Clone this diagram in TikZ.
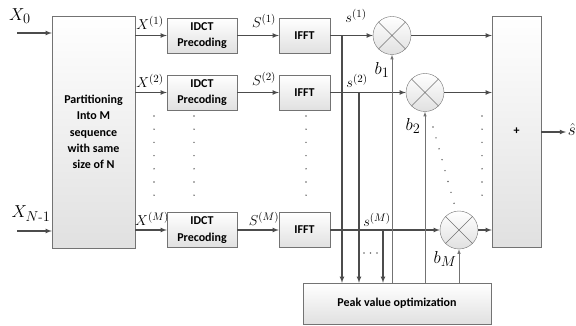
\documentclass[tikz,border=0pt]{standalone}
\usepackage{amsmath}
\usepackage{fontspec}
\newfontfamily\blkfont{Carlito}
\usetikzlibrary{arrows}

\begin{document}
\begin{tikzpicture}
		[x=1pt,y=-1pt,>=latex,
		sig/.style= {draw=black!70,line width=1.1pt},
		ctl/.style= {draw=black!55,line width=0.6pt},
		blk/.style= {font=\blkfont\bfseries\fontsize{12}{16.3}\selectfont,align=center,draw=black!55,top color=white,bottom color=black!12,inner sep=0pt},
		mul/.style= {circle,draw=black!55,top color=white,bottom color=black!12,minimum size=38pt,inner sep=0pt},
		lbl/.style= {font=\fontsize{15.5}{15.5}\selectfont,inner sep=0pt},
		big/.style= {font=\fontsize{19}{19}\selectfont,inner sep=0pt}]

		\useasboundingbox (0,0) rectangle (576,326);

		% partitioning
		\node[blk,minimum width=83pt,minimum height=232pt] (part) at (93.5,132) {Partitioning\\Into M\\sequence\\with same\\size of N};

		\node[big] (x0) at (20,16) {$X_0$};
		\node[big] (xn) at (31,214) {$X_{N\text{-}1}$};
		\coordinate (in0) at (17,33);
		\coordinate (inn) at (17,231);
		\draw[->,sig] (in0) -- (in0 -| part.west);
		\draw[->,sig] (inn) -- (inn -| part.west);

		% precoding and ifft
		\node[blk,minimum width=70pt,minimum height=35pt] (idct1) at (202,35.5) {IDCT\\Precoding};
		\node[blk,minimum width=70pt,minimum height=35pt] (idct2) at (202,92.5) {IDCT\\Precoding};
		\node[blk,minimum width=70pt,minimum height=35pt] (idctM) at (202,230) {IDCT\\Precoding};

		\node[blk,minimum width=51pt,minimum height=35pt] (ifft1) at (304.5,35.5) {IFFT}
			edge [<-,sig] (idct1)
		;
		\node[blk,minimum width=51pt,minimum height=35pt] (ifft2) at (304.5,92.5) {IFFT}
			edge [<-,sig] (idct2)
		;
		\node[blk,minimum width=51pt,minimum height=35pt] (ifftM) at (304.5,230) {IFFT}
			edge [<-,sig] (idctM)
		;

		\draw[->,sig] (part.east |- idct1) -- (idct1);
		\draw[->,sig] (part.east |- idct2) -- (idct2);
		\draw[->,sig] (part.east |- idctM) -- (idctM);

		\node[lbl] (lx1) at (150,23) {$X^{(1)}$};
		\node[lbl] (lx2) at (150,81) {$X^{(2)}$};
		\node[lbl] (lxM) at (152,219) {$X^{(M)}$};
		\node[lbl] (ls1) at (264,21) {$S^{(1)}$};
		\node[lbl] (ls2) at (264,79) {$S^{(2)}$};
		\node[lbl] (lsM) at (264,219) {$S^{(M)}$};

		% multipliers, sum, peak
		\node[mul] (mul1) at (392,35.5) {};
		\node[mul] (mul2) at (425,92.5) {};
		\node[mul] (mulM) at (459,230) {};
		\foreach \m in {mul1,mul2,mulM}
			\draw[draw=black!55,line width=0.5pt] (\m.45) -- (\m.225) (\m.135) -- (\m.315);

		\node[blk,minimum width=49pt,minimum height=231pt] (sum) at (516.5,131.5) {+};
		\node[blk,minimum width=188pt,minimum height=41pt] (peak) at (397,303.5) {Peak value optimization};

		\draw[->,sig] (ifft1) -- (mul1);
		\draw[->,sig] (ifft2) -- (mul2);
		\draw[->,sig] (ifftM) -- (mulM);
		\draw[->,sig] (mul1) -- (mul1 -| sum.west);
		\draw[->,sig] (mul2) -- (mul2 -| sum.west);
		\draw[->,sig] (mulM) -- (mulM -| sum.west);

		\coordinate (out) at (566,132);
		\draw[->,sig] (sum.east |- out) -- (out);
		\node[big,anchor=east] (shat) at (576,130) {$\hat{s}$};

		% branches to peak optimization
		\coordinate (br1) at (342,35.5);
		\coordinate (br2) at (359,92.5);
		\coordinate (brM) at (383,230);
		\draw[->,sig] (br1) -- (br1 |- peak.north);
		\draw[->,sig] (br2) -- (br2 |- peak.north);
		\draw[->,sig] (brM) -- (brM |- peak.north);

		\draw[->,ctl] (peak.north -| mul1) -- (mul1);
		\draw[->,ctl] (peak.north -| mul2) -- (mul2);
		\draw[->,ctl] (peak.north -| mulM) -- (mulM);

		\node[lbl] (lr1) at (356,16) {$s^{(1)}$};
		\node[lbl] (lr2) at (357,81) {$s^{(2)}$};
		\node[lbl] (lrM) at (377,220) {$s^{(M)}$};
		\node[big] (lb1) at (382,70) {$b_1$};
		\node[big] (lb2) at (413,126) {$b_2$};
		\node[big] (lbM) at (445,259) {$b_M$};

		% dots
		\foreach \x in {154,194,306,482}
			\foreach \i in {0,...,6}
				\fill[black!60] (\x,{116+13.2*\i}) circle (0.8pt);
		\foreach \i in {0,...,7}
			\fill[black!60] ({433+3*\i},{127+10.9*\i}) circle (0.8pt);
		\foreach \x in {364,370.5,377}
			\fill[black!60] (\x,253) circle (0.8pt);

	\end{tikzpicture}
\end{document}
